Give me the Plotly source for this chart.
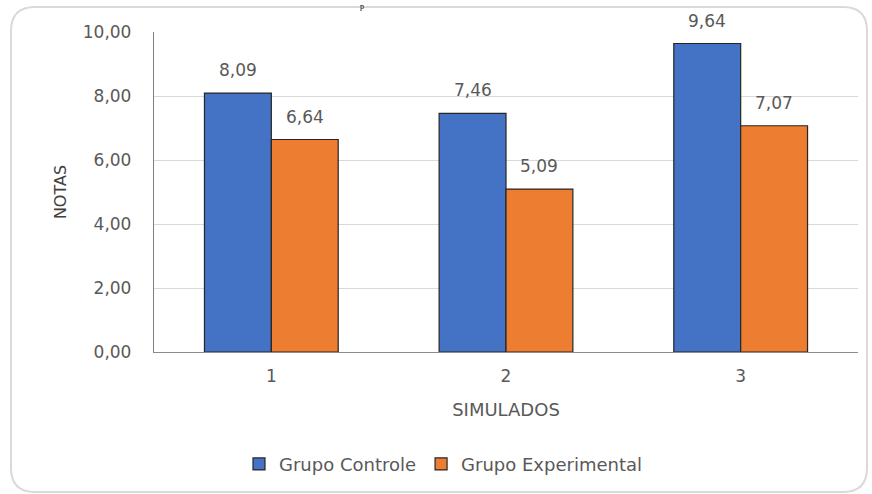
import plotly.graph_objects as go

# Simulado numbers and the mean grade of each group
simulados = ["1", "2", "3"]
grupo_controle = [8.09, 7.46, 9.64]
grupo_experimental = [6.64, 5.09, 7.07]

W, H = 872, 494
ML, MR, MT, MB = 154, 14, 32, 142
PW, PH = W - ML - MR, H - MT - MB

FONT = "DejaVu Sans"
TXT = "#595959"
BLUE = "#4472C4"
ORANGE = "#ED7D31"
EDGE = "#262626"


def px_to_paper(px, py):
    return (px - ML) / PW, (H - MB - py) / PH


def rounded_rect(x0, y0, x1, y1, r):
    def p(x, y):
        a, b = px_to_paper(x, y)
        return f"{a:.5f},{b:.5f}"

    return " ".join([
        f"M {p(x0 + r, y0)}",
        f"L {p(x1 - r, y0)}",
        f"Q {p(x1, y0)} {p(x1, y0 + r)}",
        f"L {p(x1, y1 - r)}",
        f"Q {p(x1, y1)} {p(x1 - r, y1)}",
        f"L {p(x0 + r, y1)}",
        f"Q {p(x0, y1)} {p(x0, y1 - r)}",
        f"L {p(x0, y0 + r)}",
        f"Q {p(x0, y0)} {p(x0 + r, y0)} Z",
    ])


def fmt(v):
    return f"{v:.2f}".replace(".", ",")


BARGAP = 0.43
half = (1 - BARGAP) / 4  # centre offset of each bar inside its group

fig = go.Figure()
fig.add_trace(go.Bar(
    name="Grupo Controle", x=simulados, y=grupo_controle,
    marker=dict(color=BLUE, line=dict(color=EDGE, width=1.2)),
))
fig.add_trace(go.Bar(
    name="Grupo Experimental", x=simulados, y=grupo_experimental,
    marker=dict(color=ORANGE, line=dict(color=EDGE, width=1.2)),
))

annotations = []
for i, (a, b) in enumerate(zip(grupo_controle, grupo_experimental)):
    for off, v in ((-half, a), (half, b)):
        annotations.append(dict(
            x=i + off, y=v, xref="x", yref="y", text=fmt(v),
            showarrow=False, yanchor="bottom", yshift=11,
            font=dict(family=FONT, size=17, color=TXT),
        ))

# small piece of the heading above the chart frame
tx, ty = px_to_paper(362, 0)
annotations.append(dict(
    x=tx, y=ty, xref="paper", yref="paper", text="p", showarrow=False,
    xanchor="center", yanchor="top",
    font=dict(family="Liberation Serif", size=8, color="#000000"),
))

lx, _ = px_to_paper(239, 0)

fig.update_layout(
    width=W, height=H,
    margin=dict(l=ML, r=MR, t=MT, b=MB, autoexpand=False),
    paper_bgcolor="white", plot_bgcolor="white",
    separators=",.",
    barmode="group", bargap=BARGAP, bargroupgap=0,
    font=dict(family=FONT, size=17, color=TXT),
    showlegend=True,
    legend=dict(
        orientation="h", x=lx, xanchor="left", y=-0.293, yanchor="top",
        font=dict(family=FONT, size=18, color=TXT),
        itemwidth=30, traceorder="normal",
    ),
    xaxis=dict(
        type="category", showgrid=False, showline=True, automargin=False,
        linecolor="#8c8c8c", linewidth=1.3, ticks="",
        ticklabelstandoff=8,
        title=dict(text="SIMULADOS", standoff=18,
                   font=dict(family=FONT, size=18, color=TXT)),
    ),
    yaxis=dict(
        range=[0, 10], dtick=2, tickformat=".2f", automargin=False,
        showgrid=True, gridcolor="#d9d9d9", gridwidth=1,
        showline=True, linecolor="#7f7f7f", linewidth=1.3,
        zeroline=False, ticks="", ticklabelstandoff=18,
        title=dict(text="NOTAS", standoff=12,
                   font=dict(family=FONT, size=16, color="#404040")),
    ),
    annotations=annotations,
    shapes=[dict(
        type="path", xref="paper", yref="paper",
        path=rounded_rect(11, 7, 867, 492, 24),
        line=dict(color="#d9d9d9", width=2), layer="below",
    )],
)

fig.write_html("out.html")
